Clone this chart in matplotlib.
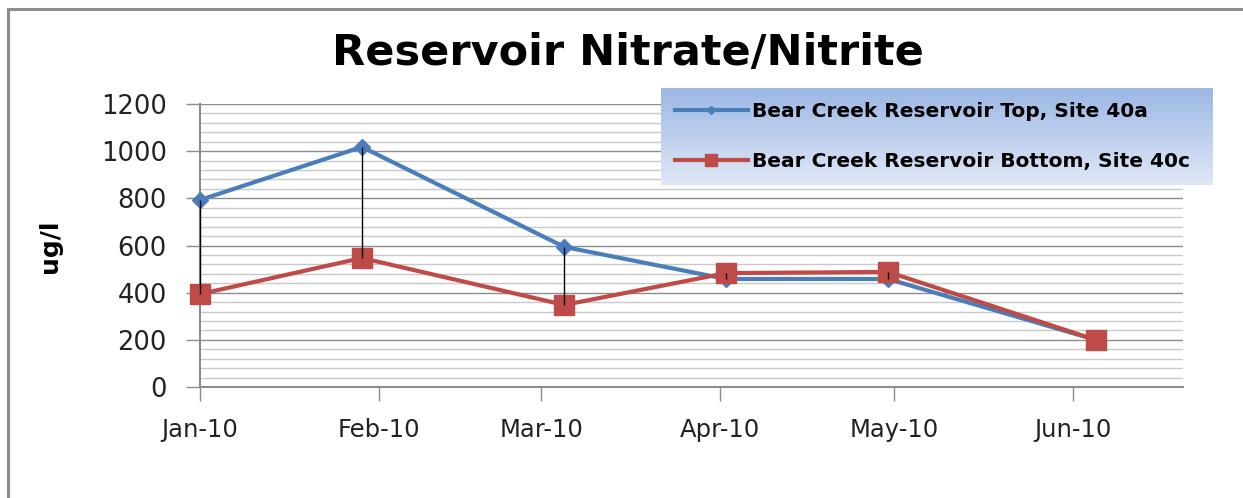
import matplotlib
matplotlib.use("Agg")
import matplotlib.pyplot as plt
import numpy as np
import datetime as dt

# ---- data ----
sample_dates = ["2010-01-01", "2010-01-29", "2010-03-05", "2010-04-02", "2010-04-30", "2010-06-05"]
top_values = [793, 1018, 594, 458, 458, 199]
bottom_values = [394, 547, 348, 483, 488, 199]
series_labels = ["Bear Creek Reservoir Top, Site 40a", "Bear Creek Reservoir Bottom, Site 40c"]
tick_dates = ["2010-01-01", "2010-02-01", "2010-03-01", "2010-04-01", "2010-05-01", "2010-06-01"]
tick_labels = ["Jan-10", "Feb-10", "Mar-10", "Apr-10", "May-10", "Jun-10"]
title = "Reservoir Nitrate/Nitrite"
ylabel = "ug/l"

dates = [dt.datetime.strptime(d, "%Y-%m-%d") for d in sample_dates]
tdates = [dt.datetime.strptime(d, "%Y-%m-%d") for d in tick_dates]

W, H = 1243, 498
fig = plt.figure(figsize=(W / 100, H / 100), dpi=100)
fig.patch.set_facecolor("white")

# frame lines (outer border of the figure box)
fig.add_artist(plt.Line2D([8 / W, 1.0], [1 - 9 / H, 1 - 9 / H], color="#8c8c8c", lw=2.2, transform=fig.transFigure))
fig.add_artist(plt.Line2D([8 / W, 8 / W], [0, 1 - 9 / H], color="#8c8c8c", lw=2.2, transform=fig.transFigure))

ax = fig.add_axes([200 / W, 1 - 387 / H, (1183 - 200) / W, (387 - 104) / H])
ax.set_xlim(dt.datetime(2010, 1, 1), dt.datetime(2010, 6, 20))
ax.set_ylim(0, 1200)

# gridlines
for y in np.arange(0, 1201, 40):
    if y % 200 == 0:
        continue
    ax.axhline(y, color="#c8c8c8", lw=1.0, zorder=0)
for y in np.arange(200, 1201, 200):
    ax.axhline(y, color="#8c8c8c", lw=1.0, zorder=0)

# high-low lines
ax.vlines(dates, bottom_values, top_values, colors="black", lw=1.0, zorder=4, clip_on=False)

blue = "#4a7ebb"
red = "#be4b48"
l1, = ax.plot(dates, top_values, color=blue, lw=3, marker="D", ms=8, zorder=3, clip_on=False)
l2, = ax.plot(dates, bottom_values, color=red, lw=3, marker="s", ms=15, zorder=3, clip_on=False)

ax.set_xticks(tdates)
ax.set_xticklabels(tick_labels, fontsize=17.5, color="#222222")
ax.set_yticks(np.arange(0, 1201, 200))
ax.set_yticklabels([str(v) for v in range(0, 1201, 200)], fontsize=18.5, color="#222222")
ax.tick_params(axis="x", direction="out", length=10, width=1, color="#8c8c8c", pad=12)
ax.tick_params(axis="y", direction="out", length=10, width=1, color="#8c8c8c", pad=14)

for s in ["top", "right"]:
    ax.spines[s].set_visible(False)
ax.spines["left"].set_color("#8c8c8c")
ax.spines["bottom"].set_color("#8c8c8c")
ax.spines["left"].set_linewidth(1.5)
ax.spines["bottom"].set_linewidth(1.5)

fig.text(628 / W, 1 - 53 / H, title, fontsize=31, fontweight="bold", ha="center", va="center")
fig.text(50 / W, 1 - 246 / H, ylabel, fontsize=18, fontweight="bold", rotation=90, ha="center", va="center")

# legend with gradient background
lax = fig.add_axes([661 / W, 1 - 185 / H, (1213 - 661) / W, (185 - 88) / H], zorder=10)
grad = np.linspace(0, 1, 100).reshape(-1, 1)
c_top = np.array([0x9c, 0xb7, 0xe4]) / 255
c_bot = np.array([0xe0, 0xe8, 0xf6]) / 255
img = c_top[None, None, :] * (1 - grad[:, :, None]) + c_bot[None, None, :] * grad[:, :, None]
lax.imshow(img, aspect="auto", extent=[0, 1, 0, 1])
lax.set_xlim(0, 1)
lax.set_ylim(0, 1)
lax.axis("off")
lax.legend([l1, l2], series_labels, loc="center left", bbox_to_anchor=(0.0, 0.5), frameon=False,
           prop={"weight": "bold", "size": 14.5}, handlelength=3.6, handletextpad=0.2,
           labelspacing=1.5, markerscale=0.55, borderaxespad=0.3)

fig.savefig("out.png", dpi=100)
